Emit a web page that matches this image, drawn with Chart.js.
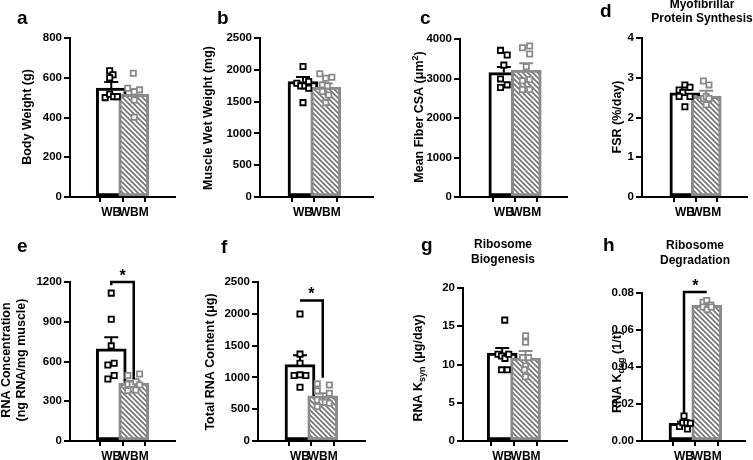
<!DOCTYPE html>
<html><head><meta charset="utf-8">
<script src="https://cdn.jsdelivr.net/npm/chart.js@4.4.1/dist/chart.umd.min.js"></script>
<style>
html,body{margin:0;padding:0;background:#fff;}
#wrap{position:relative;width:753px;height:460px;overflow:hidden;background:#fff;}
canvas{position:absolute;}
</style></head><body><div id="wrap"></div>
<script>
const categories = ['WB', 'WBM'];

// a  Body Weight
const bodyWeightTicks = [0, 200, 400, 600, 800];
const bodyWeightMean = [548, 517];
const bodyWeightSem = [30, 25];
const bodyWeightWB = [635, 615, 600, 500, 517, 505, 505];
const bodyWeightWBJitter = [-0.07, 0.08, -0.07, -0.27, -0.07, 0.1, 0.27];
const bodyWeightWBM = [623, 547, 530, 539, 488, 401];
const bodyWeightWBMJitter = [-0.02, -0.27, 0.02, 0.26, 0.02, 0.02];

// b  Muscle Wet Weight
const muscleTicks = [0, 500, 1000, 1500, 2000, 2500];
const muscleMean = [1815, 1730];
const muscleSem = [70, 55];
const muscleWB = [2053, 1789, 1747, 1747, 1816, 1711, 1484];
const muscleWBJitter = [0, -0.27, -0.1, 0.08, 0.25, 0.25, 0];
const muscleWBM = [1937, 1868, 1884, 1763, 1747, 1658, 1605, 1484];
const muscleWBMJitter = [-0.26, 0, 0.27, -0.15, 0.07, -0.15, 0.13, 0];

// c  Mean Fiber CSA
const csaTicks = [0, 1000, 2000, 3000, 4000];
const csaMean = [3150, 3215];
const csaSem = [140, 170];
const csaWB = [3712, 3593, 3339, 2990, 2771, 2839];
const csaWBJitter = [-0.15, 0.15, 0, -0.15, -0.15, 0.15];
const csaWBM = [3780, 3822, 3619, 3297, 2941, 2975, 2720, 2720];
const csaWBMJitter = [-0.17, 0.15, 0.15, 0, -0.17, 0.15, -0.17, 0.15];

// d  FSR
const fsrTicks = [0, 1, 2, 3, 4];
const fsrMean = [2.62, 2.53];
const fsrSem = [0.08, 0.14];
const fsrWB = [2.69, 2.82, 2.76, 2.63, 2.53, 2.53, 2.27];
const fsrWBJitter = [-0.27, 0, 0.24, -0.1, -0.27, 0.24, 0];
const fsrWBM = [2.92, 2.82, 2.48, 2.53, 2.48, 2.32];
const fsrWBMJitter = [-0.13, 0.13, -0.13, 0, 0.13, 0];

// e  RNA Concentration
const rnaConcTicks = [0, 300, 600, 900, 1200];
const rnaConcMean = [695, 436];
const rnaConcSem = [88, 18];
const rnaConcWB = [1116, 919, 718, 574, 587, 468, 494];
const rnaConcWBJitter = [0, 0, 0, -0.15, 0.13, -0.15, 0.13];
const rnaConcWBM = [494, 506, 428, 428, 448, 423, 380, 385];
const rnaConcWBMJitter = [-0.26, 0.26, -0.26, -0.07, 0.09, 0.26, -0.26, 0.09];
const rnaConcSig = {top: 1200, left: 1175, right: 468};

// f  Total RNA Content
const rnaContentTicks = [0, 500, 1000, 1500, 2000, 2500];
const rnaContentMean = [1200, 712];
const rnaContentSem = [150, 40];
const rnaContentWB = [1996, 1366, 1224, 1029, 1040, 1029, 846];
const rnaContentWBJitter = [0, 0, 0, -0.26, 0, 0.26, 0];
const rnaContentWBM = [898, 882, 788, 751, 646, 609, 609, 593, 541];
const rnaContentWBMJitter = [-0.24, 0.29, -0.24, 0.29, -0.24, -0.04, 0.11, 0.29, -0.24];
const rnaContentSig = {top: 2211, left: 2211, right: 995};

// g  RNA Ksyn
const ksynTicks = [0, 5, 10, 15, 20];
const ksynMean = [11.5, 10.85];
const ksynSem = [0.65, 0.9];
const ksynWB = [15.8, 11.35, 11.1, 10.8, 11.35, 9.3, 9.3];
const ksynWBJitter = [0.11, -0.18, -0.03, 0.12, 0.28, -0.03, 0.22];
const ksynWBM = [13.75, 12.9, 10.9, 10.9, 9.8, 8.4, 9.3];
const ksynWBMJitter = [0, 0, -0.13, 0.13, 0, 0, -0.05];

// h  RNA Kdeg
const kdegTicks = [0, 0.02, 0.04, 0.06, 0.08];
const kdegMean = [0.0095, 0.0733];
const kdegSem = [0.0009, 0.0007];
const kdegWB = [0.0135, 0.0078, 0.0099, 0.0099, 0.0096, 0.0065];
const kdegWBJitter = [0, -0.2, -0.05, 0.12, 0.28, 0.15];
const kdegWBM = [0.075, 0.076, 0.0735, 0.0724, 0.071, 0.0724];
const kdegWBMJitter = [-0.16, 0, 0.17, -0.16, 0.02, 0.2];
const kdegSig = {top: 0.0805, left: 0.015, right: 0.0805};

const FONT = '"Liberation Sans", Arial, Helvetica, sans-serif';
const GRAY = '#8a8a8a';

function hatch(color) {
  const s = 5, c = document.createElement('canvas');
  c.width = s; c.height = s;
  const x = c.getContext('2d');
  x.fillStyle = '#fff'; x.fillRect(0, 0, s, s);
  x.strokeStyle = color; x.lineWidth = 1.7;
  x.beginPath();
  x.moveTo(-1, -1); x.lineTo(s + 1, s + 1);
  x.moveTo(-1, s - 1); x.lineTo(1, s + 1);
  x.moveTo(s - 1, -1); x.lineTo(s + 1, 1);
  x.stroke();
  return x.createPattern(c, 'repeat');
}

const panels = [
  {box: [0, 0, 190, 230], area: [70, 38, 175, 197], centers: [100, 145],
   ticks: bodyWeightTicks, mean: bodyWeightMean, sem: bodyWeightSem,
   wb: bodyWeightWB, wbJ: bodyWeightWBJitter, wbm: bodyWeightWBM, wbmJ: bodyWeightWBMJitter,
   letter: ['a', 17, 24], axisTitle: [{segs: [{t: 'Body Weight (g)'}], x: 27.5, y: 117}]},
  {box: [190, 0, 190, 230], area: [260, 38, 373, 197], centers: [289.5, 335],
   ticks: muscleTicks, mean: muscleMean, sem: muscleSem,
   wb: muscleWB, wbJ: muscleWBJitter, wbm: muscleWBM, wbmJ: muscleWBMJitter,
   letter: ['b', 217, 24], axisTitle: [{segs: [{t: 'Muscle Wet Weight (mg)'}], x: 209, y: 118}]},
  {box: [380, 0, 193, 230], area: [460, 39, 570, 197], centers: [495, 541],
   ticks: csaTicks, mean: csaMean, sem: csaSem,
   wb: csaWB, wbJ: csaWBJitter, wbm: csaWBM, wbmJ: csaWBMJitter,
   letter: ['c', 420, 24], axisTitle: [{segs: [{t: 'Mean Fiber CSA (μm'}, {t: '2', sup: true}, {t: ')'}], x: 420, y: 117}]},
  {box: [573, 0, 180, 230], area: [642, 38, 753, 197], centers: [677, 722],
   ticks: fsrTicks, mean: fsrMean, sem: fsrSem,
   wb: fsrWB, wbJ: fsrWBJitter, wbm: fsrWBM, wbmJ: fsrWBMJitter,
   letter: ['d', 600, 17], axisTitle: [{segs: [{t: 'FSR (%/day)'}], x: 618, y: 117}],
   header: [['Myofibrillar', 702, 5], ['Protein Synthesis', 702, 19]]},
  {box: [0, 230, 190, 230], area: [70, 282, 175, 441], centers: [100, 145],
   ticks: rnaConcTicks, mean: rnaConcMean, sem: rnaConcSem,
   wb: rnaConcWB, wbJ: rnaConcWBJitter, wbm: rnaConcWBM, wbmJ: rnaConcWBMJitter, sig: rnaConcSig,
   letter: ['e', 17, 252], axisTitle: [{segs: [{t: 'RNA Concentration'}], x: 7, y: 360}, {segs: [{t: '(ng RNA/mg muscle)'}], x: 22, y: 360}]},
  {box: [190, 230, 190, 230], area: [258, 282, 365, 441], centers: [288.5, 334],
   ticks: rnaContentTicks, mean: rnaContentMean, sem: rnaContentSem,
   wb: rnaContentWB, wbJ: rnaContentWBJitter, wbm: rnaContentWBM, wbmJ: rnaContentWBMJitter, sig: rnaContentSig,
   letter: ['f', 221, 253], axisTitle: [{segs: [{t: 'Total RNA Content (μg)'}], x: 211, y: 362}]},
  {box: [380, 230, 193, 230], area: [463, 288, 570, 441], centers: [490, 538],
   ticks: ksynTicks, mean: ksynMean, sem: ksynSem,
   wb: ksynWB, wbJ: ksynWBJitter, wbm: ksynWBM, wbmJ: ksynWBMJitter,
   letter: ['g', 421, 251], axisTitle: [{segs: [{t: 'RNA K'}, {t: 'syn', sub: true}, {t: ' (μg/day)'}], x: 418.5, y: 368}],
   header: [['Ribosome', 503, 245], ['Biogenesis', 503, 260]]},
  {box: [573, 230, 180, 230], area: [642, 293, 745, 441], centers: [674.5, 720],
   ticks: kdegTicks, mean: kdegMean, sem: kdegSem, fixed: 2,
   wb: kdegWB, wbJ: kdegWBJitter, wbm: kdegWBM, wbmJ: kdegWBMJitter, sig: kdegSig,
   letter: ['h', 603, 251], axisTitle: [{segs: [{t: 'RNA K'}, {t: 'deg', sub: true}, {t: ' (1/t)'}], x: 617.5, y: 372}],
   header: [['Ribosome', 695, 246], ['Degradation', 695, 261]]}
];

function drawRich(ctx, segs, cx, cy, size) {
  ctx.save();
  ctx.translate(cx, cy);
  ctx.rotate(-Math.PI / 2);
  let total = 0;
  segs.forEach(s => {
    const sz = (s.sub || s.sup) ? size * 0.72 : size;
    ctx.font = 'bold ' + sz + 'px ' + FONT;
    s.w = ctx.measureText(s.t).width;
    total += s.w;
  });
  let x = -total / 2;
  ctx.textAlign = 'left';
  ctx.textBaseline = 'middle';
  ctx.fillStyle = '#000';
  segs.forEach(s => {
    const sz = (s.sub || s.sup) ? size * 0.72 : size;
    ctx.font = 'bold ' + sz + 'px ' + FONT;
    const dy = s.sub ? size * 0.3 : (s.sup ? -size * 0.33 : 0);
    ctx.fillText(s.t, x, dy);
    x += s.w;
  });
  ctx.restore();
}

const wrap = document.getElementById('wrap');
panels.forEach(p => {
  const [bx, by, bw, bh] = p.box;
  const [L, T, R, B] = p.area;
  const cv = document.createElement('canvas');
  cv.width = bw; cv.height = bh;
  cv.style.left = bx + 'px'; cv.style.top = by + 'px';
  wrap.appendChild(cv);
  const unit = p.centers[1] - p.centers[0];
  const xmin = -(p.centers[0] - L) / unit;
  const xmax = 1 + (R - p.centers[1]) / unit;
  const ymax = p.ticks[p.ticks.length - 1];
  const pattern = hatch('#767676');

  const overlay = {
    id: 'overlay',
    afterDatasetDraw(chart, args) {
      if (args.index !== 0) return;
      const ctx = chart.ctx, xs = chart.scales.x, ys = chart.scales.y;
      ctx.save();
      p.mean.forEach((m, i) => {
        const x = xs.getPixelForValue(i);
        const y0 = ys.getPixelForValue(m), y1 = ys.getPixelForValue(m + p.sem[i]);
        ctx.strokeStyle = i ? GRAY : '#000';
        ctx.lineWidth = 2;
        ctx.beginPath();
        ctx.moveTo(x, y0); ctx.lineTo(x, y1);
        ctx.moveTo(x - 7, y1); ctx.lineTo(x + 7, y1);
        ctx.stroke();
      });
      ctx.restore();
    },
    afterDraw(chart) {
      const ctx = chart.ctx, xs = chart.scales.x, ys = chart.scales.y;
      ctx.save();
      if (p.sig) {
        const x0 = xs.getPixelForValue(0), x1 = xs.getPixelForValue(1);
        const yt = ys.getPixelForValue(p.sig.top), yl = ys.getPixelForValue(p.sig.left), yr = ys.getPixelForValue(p.sig.right);
        ctx.strokeStyle = '#000'; ctx.lineWidth = 2.5; ctx.lineJoin = 'miter';
        ctx.beginPath();
        ctx.moveTo(x0, yl); ctx.lineTo(x0, yt); ctx.lineTo(x1, yt); ctx.lineTo(x1, yr);
        ctx.stroke();
        ctx.fillStyle = '#000';
        ctx.font = 'bold 16px ' + FONT;
        ctx.textAlign = 'center'; ctx.textBaseline = 'alphabetic';
        ctx.fillText('*', (x0 + x1) / 2, yt - 1);
      }
      ctx.fillStyle = '#000';
      ctx.font = 'bold 19px ' + FONT;
      ctx.textAlign = 'left'; ctx.textBaseline = 'alphabetic';
      ctx.fillText(p.letter[0], p.letter[1] - bx, p.letter[2] - by);
      if (p.header) {
        ctx.font = 'bold 12px ' + FONT;
        ctx.textAlign = 'center'; ctx.textBaseline = 'middle';
        p.header.forEach(h => ctx.fillText(h[0], h[1] - bx, h[2] - by));
      }
      p.axisTitle.forEach(a => drawRich(ctx, a.segs, a.x - bx, a.y - by, 12.5));
      ctx.restore();
    }
  };

  const tickFont = {family: FONT, size: 11.5, weight: 'bold'};
  new Chart(cv, {
    type: 'bar',
    data: {
      datasets: [
        {type: 'bar', data: p.mean.map((m, i) => ({x: i, y: m})),
         backgroundColor: ['#ffffff', pattern], borderColor: ['#000000', GRAY],
         borderWidth: 3, borderSkipped: false, barThickness: 30, order: 3},
        {type: 'scatter', data: p.wb.map((v, i) => ({x: p.wbJ[i], y: v})),
         pointStyle: 'rect', pointRadius: 3.7, borderWidth: 1.8,
         backgroundColor: '#ffffff', borderColor: '#000000', order: 2, clip: false},
        {type: 'scatter', data: p.wbm.map((v, i) => ({x: 1 + p.wbmJ[i], y: v})),
         pointStyle: 'rect', pointRadius: 3.7, borderWidth: 1.8,
         backgroundColor: '#ffffff', borderColor: GRAY, order: 1, clip: false}
      ]
    },
    options: {
      responsive: false, animation: false, devicePixelRatio: 1, events: [],
      layout: {padding: {left: 0, top: T - by, right: (bx + bw) - R, bottom: 0}},
      plugins: {legend: {display: false}, tooltip: {enabled: false}},
      scales: {
        x: {
          type: 'linear', min: xmin, max: xmax,
          afterBuildTicks: s => { s.ticks = [{value: 0}, {value: 1}]; },
          afterFit: s => { s.height = (by + bh) - B; },
          ticks: {callback: v => categories[v], color: '#000', font: {family: FONT, size: 12, weight: 'bold'},
                  padding: 3, maxRotation: 0, autoSkip: false},
          grid: {drawOnChartArea: false, drawTicks: true, tickLength: 5, color: '#000', lineWidth: 2},
          border: {color: '#000', width: 2}
        },
        y: {
          type: 'linear', min: 0, max: ymax,
          afterBuildTicks: s => { s.ticks = p.ticks.map(v => ({value: v})); },
          afterFit: s => { s.width = L - bx; },
          ticks: {callback: v => p.fixed ? v.toFixed(p.fixed) : String(v), color: '#000', font: tickFont, padding: 2},
          grid: {drawOnChartArea: false, drawTicks: true, tickLength: 6, color: '#000', lineWidth: 2},
          border: {color: '#000', width: 2}
        }
      }
    },
    plugins: [overlay]
  });
});
</script>
</body></html>
